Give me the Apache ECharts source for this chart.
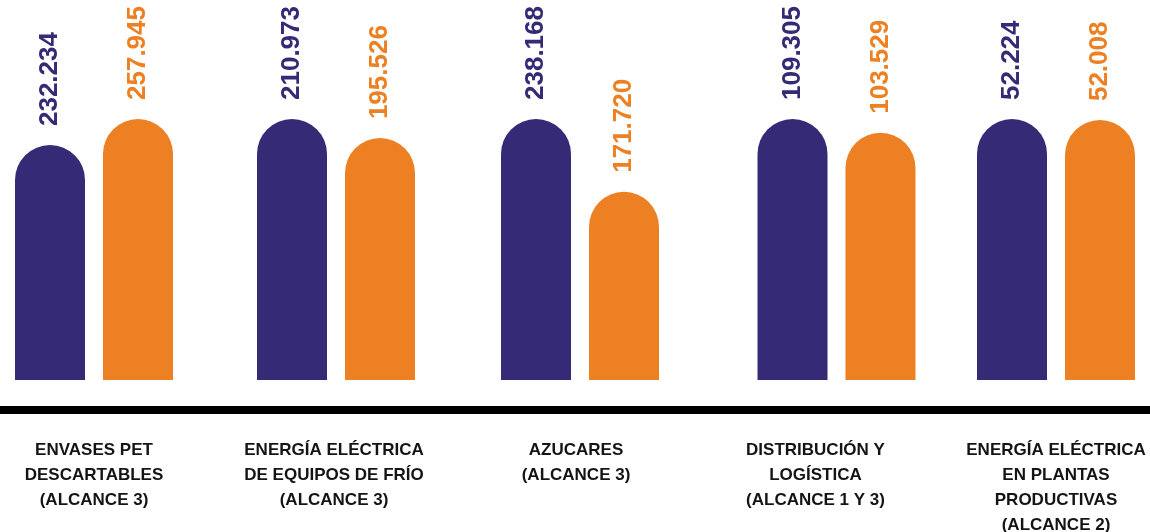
<!DOCTYPE html>
<html>
<head>
<meta charset="utf-8">
<script src="https://cdn.jsdelivr.net/npm/echarts@6/dist/echarts.min.js"></script>
<style>
html,body{margin:0;padding:0;background:#fff;}
#chart{width:1150px;height:532px;}
</style>
</head>
<body>
<div id="chart"></div>
<script>
const categories = [
  'ENVASES PET\nDESCARTABLES\n(ALCANCE 3)',
  'ENERGÍA ELÉCTRICA\nDE EQUIPOS DE FRÍO\n(ALCANCE 3)',
  'AZUCARES\n(ALCANCE 3)',
  'DISTRIBUCIÓN Y\nLOGÍSTICA\n(ALCANCE 1 Y 3)',
  'ENERGÍA ELÉCTRICA\nEN PLANTAS\nPRODUCTIVAS\n(ALCANCE 2)'
];
const seriesA = [232234, 210973, 238168, 109305, 52224];
const seriesB = [257945, 195526, 171720, 103529, 52008];

const colorA = '#352a75';
const colorB = '#ec8023';
const groupCenters = [94, 336, 580, 836.5, 1056];
const labelShift = [0, 2, 4, 21, 0];

function fmt(v) {
  return String(v).replace(/\B(?=(\d{3})+(?!\d))/g, '.');
}

const grids = [], xAxes = [], yAxes = [], series = [];
categories.forEach((cat, i) => {
  grids.push({ left: groupCenters[i] - 100, width: 200, top: 119, height: 261,
               containLabel: false, outerBoundsMode: 'none' });
  xAxes.push({
    gridIndex: i, type: 'category', data: [cat],
    axisLine: { show: false }, axisTick: { show: false }, splitLine: { show: false },
    axisLabel: {
      margin: 58, fontSize: 17, fontWeight: 'bold', lineHeight: 25,
      fontFamily: 'Liberation Sans', color: '#141414', align: 'center',
      padding: [0, labelShift[i] * 2, 0, 0]
    }
  });
  yAxes.push({ gridIndex: i, type: 'value', min: 0, max: Math.max(seriesA[i], seriesB[i]), show: false });
  [[seriesA, colorA], [seriesB, colorB]].forEach(([arr, col]) => {
    series.push({
      type: 'bar', xAxisIndex: i, yAxisIndex: i, data: [arr[i]],
      barWidth: 70, barGap: '25.7%',
      itemStyle: { color: col, borderRadius: [35, 35, 0, 0] },
      label: {
        show: true, position: 'top', distance: 19, rotate: 90,
        align: 'left', verticalAlign: 'middle',
        fontSize: 26, fontWeight: 'bold', fontFamily: 'Liberation Sans', color: col,
        formatter: p => fmt(p.value)
      }
    });
  });
});

const chart = echarts.init(document.getElementById('chart'));
chart.setOption({
  animation: false,
  grid: grids, xAxis: xAxes, yAxis: yAxes, series: series,
  graphic: [{ type: 'rect', shape: { x: 0, y: 406, width: 1150, height: 8 }, style: { fill: '#000' } }]
});
</script>
</body>
</html>
